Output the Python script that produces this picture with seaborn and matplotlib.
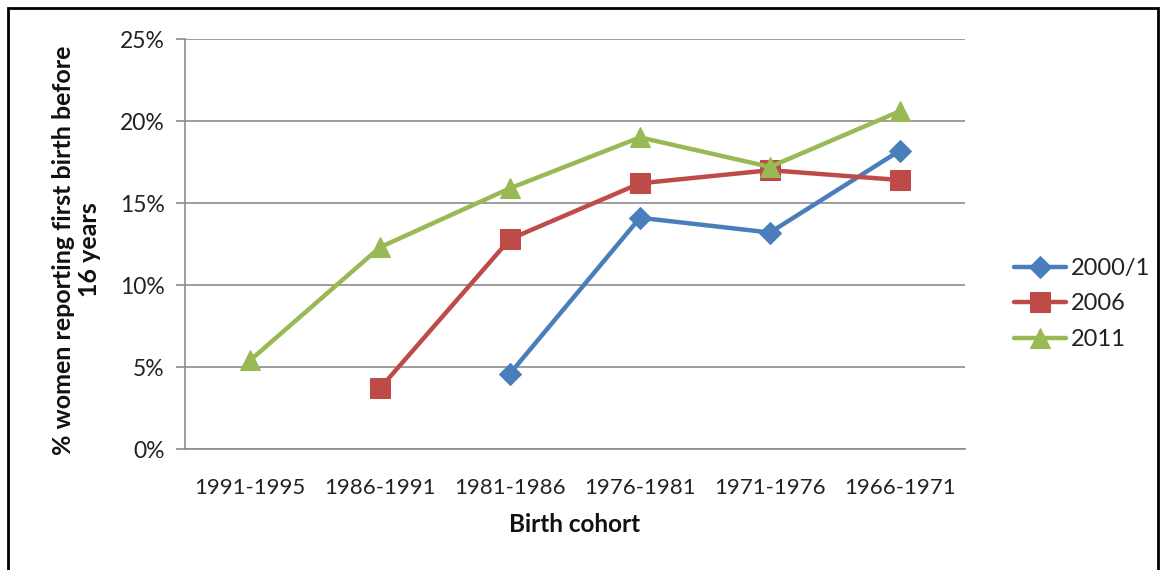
import numpy as np
import pandas as pd
import matplotlib
matplotlib.use("Agg")
import matplotlib.pyplot as plt
import seaborn as sns
from matplotlib.patches import Rectangle

cohorts = ["1991-1995", "1986-1991", "1981-1986", "1976-1981", "1971-1976", "1966-1971"]
s2000 = [np.nan, np.nan, 4.6, 14.1, 13.2, 18.2]
s2006 = [np.nan, 3.7, 12.8, 16.2, 17.0, 16.4]
s2011 = [5.4, 12.3, 15.9, 19.0, 17.2, 20.6]
series_names = ["2000/1", "2006", "2011"]
yticks = [0, 5, 10, 15, 20, 25]

colors = {"2000/1": "#4A7EBB", "2006": "#BE4B48", "2011": "#98B954"}
markers = {"2000/1": "D", "2006": "s", "2011": "^"}
msizes = {"2000/1": 11, "2006": 14, "2011": 15}

sns.set_theme(style="white")
plt.rcParams['font.family'] = ['Lato', 'DejaVu Sans']

fig = plt.figure(figsize=(11.64, 5.70), dpi=100)
ax = fig.add_axes([185/1164, 1-449/570, (965-185)/1164, (449-39)/570])

rows = []
for name, vals in zip(series_names, [s2000, s2006, s2011]):
    for i, v in enumerate(vals):
        rows.append({"x": i, "cohort": cohorts[i], "value": v, "series": name})
df = pd.DataFrame(rows)

for name in series_names:
    sub = df[(df["series"] == name) & df["value"].notna()]
    sns.lineplot(data=sub, x="x", y="value", ax=ax, color=colors[name],
                 marker=markers[name], markersize=msizes[name],
                 markeredgecolor=colors[name], linewidth=3.2, label=name,
                 errorbar=None)

ax.set_xlim(-0.5, len(cohorts) - 0.5)
ax.set_ylim(0, 25)
ax.set_yticks(yticks)
ax.set_yticklabels([f"{t}%" for t in yticks])
ax.set_xticks(range(len(cohorts)))
ax.set_xticklabels(cohorts)
ax.yaxis.grid(True, color="#8C8C8C", linewidth=1.2)
ax.xaxis.grid(False)
ax.set_axisbelow(True)
for s in ["top", "right"]:
    ax.spines[s].set_visible(False)
for s in ["left", "bottom"]:
    ax.spines[s].set_visible(True)
    ax.spines[s].set_color("#8C8C8C")
    ax.spines[s].set_linewidth(1.2)
ax.tick_params(axis="y", which="major", length=6.5, width=1.2, color="#8C8C8C",
               labelsize=16.5, labelcolor="#222222", pad=8, left=True)
ax.tick_params(axis="x", length=0, labelsize=16, labelcolor="#222222", pad=21)

ax.set_xlabel("Birth cohort", fontsize=17.5, fontweight="bold", color="#111111")
ax.xaxis.set_label_coords(0.5, -(513-449)/410)
ax.set_ylabel("% women reporting first birth before\n16 years", fontsize=18,
              fontweight="bold", color="#111111", linespacing=1.15)
ax.yaxis.set_label_coords((101-185)/780, (449-250)/410)

leg = ax.legend(loc="center left", bbox_to_anchor=(993/1164, 1-304/570),
                bbox_transform=fig.transFigure, frameon=False, fontsize=17,
                handlelength=2.2, labelspacing=0.62, handletextpad=0.2)
for t in leg.get_texts():
    t.set_color("#222222")

fig.patches.append(Rectangle((8/1164, -0.05), (1158-8)/1164, 1.05 - 8/570,
                             transform=fig.transFigure, fill=False,
                             edgecolor="black", linewidth=2))

fig.savefig("out.png", dpi=100)
